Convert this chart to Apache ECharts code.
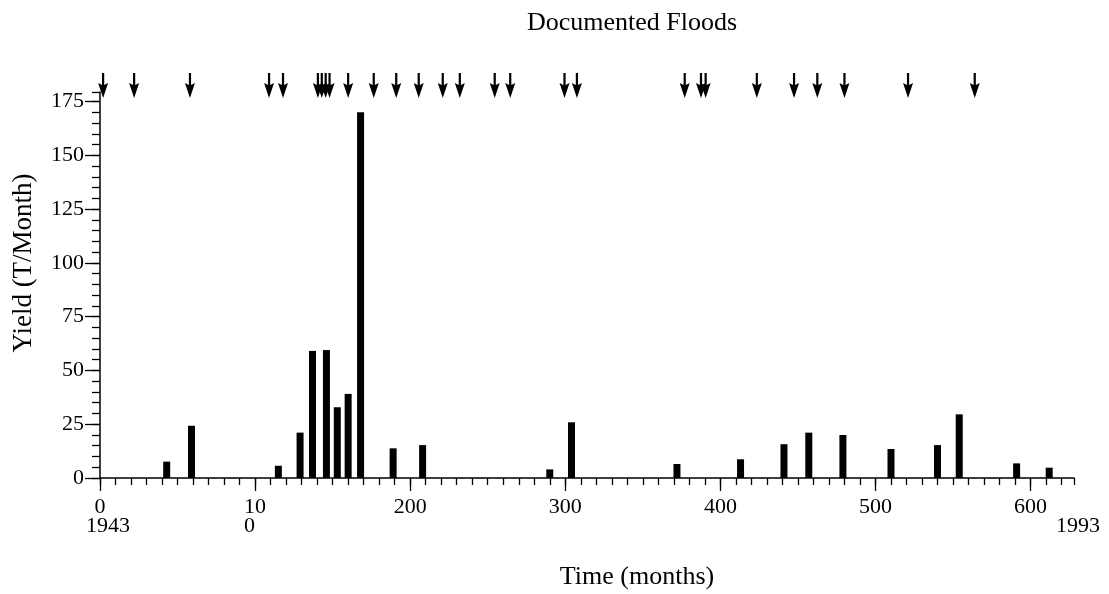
<!DOCTYPE html>
<html>
<head>
<meta charset="utf-8">
<script src="https://cdn.jsdelivr.net/npm/echarts@6/dist/echarts.min.js"></script>
<style>
  html, body { margin: 0; padding: 0; background: #fff; }
  #chart { width: 1109px; height: 594px; }
</style>
</head>
<body>
<div id="chart"></div>
<script>
// Monthly sediment yield; month index counted from the start of 1943
const barMonths = [43, 59, 115, 129, 137, 146, 153, 160, 168, 189, 208, 290, 304, 372, 413, 441, 457, 479, 510, 540, 554, 591, 612];
const barYields = [7.6, 24.3, 5.7, 21.1, 59.1, 59.5, 32.9, 39.1, 170.1, 13.8, 15.3, 4.0, 25.9, 6.5, 8.7, 15.7, 21.1, 20.0, 13.5, 15.3, 29.6, 6.8, 4.8];

// Months in which a flood is documented
const floodMonths = [2, 22, 58, 109, 118, 140.5, 143, 145.5, 148, 160, 176.5, 191, 205.5, 221, 232, 254.5, 264.5, 299.5, 307.5, 377, 387.5, 390.5, 423.5, 447.5, 462.5, 480, 521, 564];

// Axis ticks and labels
const xTickValues = [0, 100, 200, 300, 400, 500, 600];
const xTickLabels = ['0\n1943', '10\n0', '200', '300', '400', '500', '600'];
const xEndLabel = '1993';
const yTickValues = [0, 25, 50, 75, 100, 125, 150, 175];
const yTickLabels = ['0', '25', '50', '75', '100', '125', '150', '175'];

const X_MAX = 628;
const Y_MAX = 179.5;
const FONT = '"Liberation Serif", "Times New Roman", serif';
const LABEL_SIZE = 22;

// minor tick positions: every 10 months / every 5 units, plus the axis end
const xMinor = [];
for (let v = 0; v <= 620; v += 10) xMinor.push(v);
xMinor.push(X_MAX);
const yMinor = [];
for (let v = 0; v <= 175; v += 5) yMinor.push(v);
yMinor.push(Y_MAX);

const xLabelValues = xTickValues.concat([X_MAX]);

function xLabelFormatter(value) {
  const i = xTickValues.indexOf(value);
  if (i < 0) {
    // end-of-record year, set below and to the right of the last label
    return '{s| }\n{e|' + xEndLabel + '}';
  }
  const text = xTickLabels[i];
  const lines = text.split('\n');
  if (lines.length === 2 && /^\d+$/.test(lines[0]) && /^\d+$/.test(lines[1])) {
    // a number broken across two lines keeps its lines flush left:
    // the short second line is padded on the right up to the first line's width
    if (lines[1].length < lines[0].length) {
      return '{s|' + lines[0] + '}\n{p|' + lines[1] + '}';
    }
    // start-of-record year sits a little right of the tick
    return '{s|' + lines[0] + '}\n{y|' + lines[1] + '}';
  }
  return lines.map(t => '{s|' + t + '}').join('\n');
}

const baseText = { fontFamily: FONT, fontSize: LABEL_SIZE, lineHeight: 19, color: '#000' };
const labelRich = {
  s: baseText,
  p: Object.assign({}, baseText, { padding: [0, LABEL_SIZE / 2, 0, 0] }),
  y: Object.assign({}, baseText, { padding: [0, 0, 0, 16] }),
  e: Object.assign({}, baseText, { padding: [0, 0, 0, 8] })
};

const chart = echarts.init(document.getElementById('chart'), null, { renderer: 'canvas' });

const axisLineStyle = { color: '#000', width: 1.5 };
const tickStyle = { color: '#000', width: 1.3 };

chart.setOption({
  backgroundColor: '#fff',
  animation: false,
  grid: [
    { left: 100, right: 35, top: 92, bottom: 116 },
    { left: 100, right: 35, top: 73, height: 25 }
  ],
  xAxis: [
    { // axis line with the short ticks
      type: 'value', gridIndex: 0, position: 'bottom', min: 0, max: X_MAX,
      axisLine: { show: true, onZero: false, lineStyle: axisLineStyle },
      axisTick: { show: true, length: 7, lineStyle: tickStyle, customValues: xMinor },
      axisLabel: { show: false },
      splitLine: { show: false }
    },
    { // long ticks with labels
      type: 'value', gridIndex: 0, position: 'bottom', min: 0, max: X_MAX,
      axisLine: { show: false, onZero: false },
      axisTick: { show: true, length: 13, lineStyle: tickStyle, customValues: xTickValues },
      axisLabel: {
        show: true, margin: 20, customValues: xLabelValues,
        formatter: xLabelFormatter, rich: labelRich,
        fontFamily: FONT, fontSize: LABEL_SIZE, lineHeight: 19, color: '#000'
      },
      splitLine: { show: false }
    },
    { // flood markers
      type: 'value', gridIndex: 1, min: 0, max: X_MAX, show: false
    }
  ],
  yAxis: [
    {
      type: 'value', gridIndex: 0, position: 'left', min: 0, max: Y_MAX,
      axisLine: { show: true, onZero: false, lineStyle: axisLineStyle },
      axisTick: { show: true, length: 8, lineStyle: tickStyle, customValues: yMinor },
      axisLabel: { show: false },
      splitLine: { show: false }
    },
    {
      type: 'value', gridIndex: 0, position: 'left', min: 0, max: Y_MAX,
      axisLine: { show: false, onZero: false },
      axisTick: { show: true, length: 15, lineStyle: tickStyle, customValues: yTickValues },
      axisLabel: {
        show: true, margin: 16, customValues: yTickValues,
        formatter: v => yTickLabels[yTickValues.indexOf(v)],
        fontFamily: FONT, fontSize: LABEL_SIZE, color: '#000'
      },
      splitLine: { show: false }
    },
    { type: 'value', gridIndex: 1, min: 0, max: 1, show: false }
  ],
  series: [
    {
      type: 'bar',
      xAxisIndex: 0, yAxisIndex: 0,
      barWidth: 7,
      itemStyle: { color: '#000' },
      data: barMonths.map((m, i) => [m, barYields[i]])
    },
    {
      type: 'scatter',
      xAxisIndex: 2, yAxisIndex: 2,
      clip: false,
      symbol: 'path://M7,0 L11,0 L11,24 L18,20 L9,50 L0,20 L7,24 Z',
      symbolSize: [10, 25],
      itemStyle: { color: '#000', opacity: 1 },
      data: floodMonths.map(m => [m, 0.5])
    }
  ],
  graphic: [
    {
      type: 'text', x: 632, y: 23,
      style: { text: 'Documented Floods', font: '26px ' + FONT, fill: '#000', textAlign: 'center', textVerticalAlign: 'middle' }
    },
    {
      type: 'text', x: 24, y: 263, rotation: Math.PI / 2,
      style: { text: 'Yield (T/Month)', font: '27px ' + FONT, fill: '#000', textAlign: 'center', textVerticalAlign: 'middle' }
    },
    {
      type: 'text', x: 637, y: 577,
      style: { text: 'Time (months)', font: '26px ' + FONT, fill: '#000', textAlign: 'center', textVerticalAlign: 'middle' }
    }
  ]
});
</script>
</body>
</html>
